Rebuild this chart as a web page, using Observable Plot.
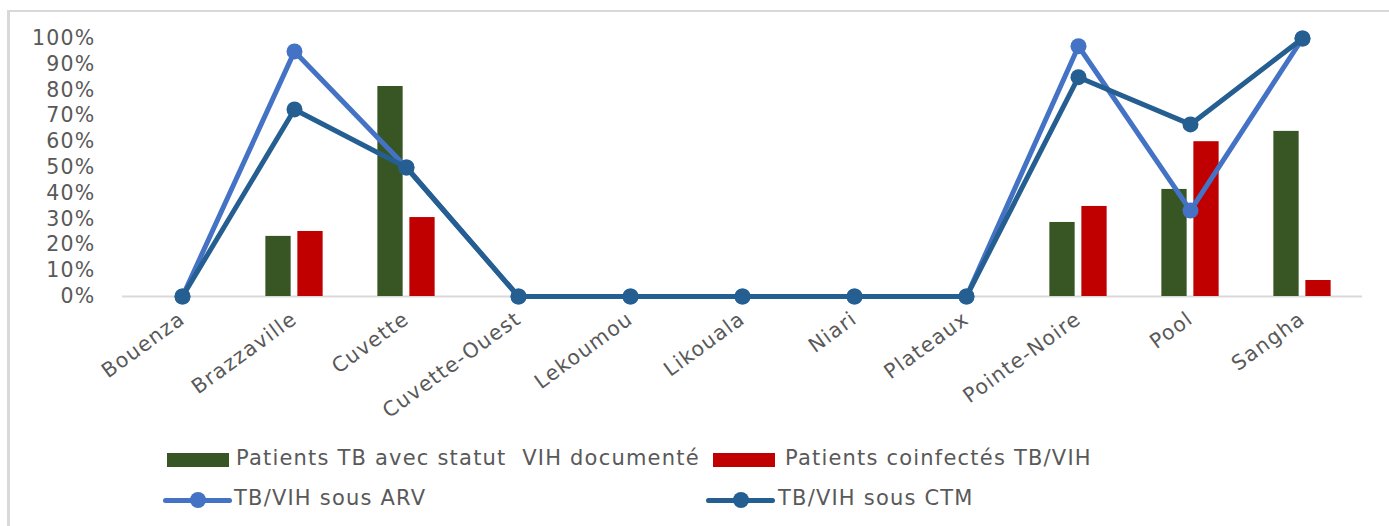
<!DOCTYPE html>
<html>
<head>
<meta charset="utf-8">
<script src="https://cdn.jsdelivr.net/npm/d3@7"></script>
<script src="https://cdn.jsdelivr.net/npm/@observablehq/plot@0.6"></script>
<style>
  html, body { margin: 0; padding: 0; background: #fff; }
  body { width: 1389px; height: 526px; position: relative; overflow: hidden; font-family: "DejaVu Sans", sans-serif; color: #595959; }
  #frame { position: absolute; left: 7px; top: 10px; width: 1400px; height: 600px; border-left: 3px solid #d9d9d9; border-top: 2px solid #d9d9d9; }
  #chart { position: absolute; left: 0; top: 0; }
  #chart svg text { letter-spacing: 1.2px; }
  .leg { position: absolute; font-size: 21px; letter-spacing: 1.2px; white-space: pre; line-height: 1; }
  .sw { position: absolute; }
</style>
</head>
<body>
<div id="frame"></div>
<div id="chart"></div>
<div id="legend"></div>
<script>
const categories = ["Bouenza","Brazzaville","Cuvette","Cuvette-Ouest","Lekoumou","Likouala","Niari","Plateaux","Pointe-Noire","Pool","Sangha"];
const statutDocumente = [0, 0.233, 0.814, 0, 0, 0, 0, 0, 0.287, 0.415, 0.64];
const coinfectes = [0, 0.252, 0.306, 0, 0, 0, 0, 0, 0.349, 0.60, 0.062];
const sousARV = [0, 0.95, 0.50, 0, 0, 0, 0, 0, 0.97, 0.333, 1.0];
const sousCTM = [0, 0.725, 0.50, 0, 0, 0, 0, 0, 0.85, 0.667, 1.0];
const yTicks = [0, 0.1, 0.2, 0.3, 0.4, 0.5, 0.6, 0.7, 0.8, 0.9, 1.0];
const seriesNames = ["Patients TB avec statut  VIH documenté", "Patients coinfectés TB/VIH", "TB/VIH sous ARV", "TB/VIH sous CTM"];
const colors = ["#375623", "#c00000", "#4472c4", "#255e91"];

const rows = categories.map((c, i) => ({cat: c, doc: statutDocumente[i], coinf: coinfectes[i], arv: sousARV[i], ctm: sousCTM[i]}));

const W = 1389, mL = 122, mR = 27;
const bw = (W - mL - mR) / categories.length;
const half = bw / 2;

const plot = Plot.plot({
  width: W,
  height: 430,
  marginLeft: mL,
  marginRight: mR,
  marginTop: 38,
  marginBottom: 134,
  style: {fontFamily: "DejaVu Sans, sans-serif", fontSize: "20.5px", color: "#595959", background: "transparent", overflow: "visible"},
  x: {type: "band", domain: categories, padding: 0, label: null, tickSize: 0, tickPadding: 20, tickRotate: -36},
  y: {domain: [0, 1], ticks: yTicks, tickFormat: d3.format(".0%"), label: null, tickSize: 0, tickPadding: 27},
  marks: [
    Plot.ruleY([0], {stroke: "#d9d9d9", strokeWidth: 2}),
    Plot.barY(rows.filter(d => d.doc > 0), {x: "cat", y: "doc", fill: colors[0], insetLeft: half - 29, insetRight: half + 3}),
    Plot.barY(rows.filter(d => d.coinf > 0), {x: "cat", y: "coinf", fill: colors[1], insetLeft: half + 3, insetRight: half - 29}),
    Plot.lineY(rows, {x: "cat", y: "arv", stroke: colors[2], strokeWidth: 5, strokeLinejoin: "round"}),
    Plot.dot(rows, {x: "cat", y: "arv", fill: colors[2], r: 8}),
    Plot.lineY(rows, {x: "cat", y: "ctm", stroke: colors[3], strokeWidth: 5, strokeLinejoin: "round"}),
    Plot.dot(rows, {x: "cat", y: "ctm", fill: colors[3], r: 8})
  ]
});
document.getElementById("chart").appendChild(plot);

// Legend
const legend = document.getElementById("legend");
const items = [
  {type: "bar", x: 167, y: 460, label: seriesNames[0], color: colors[0], tx: 236},
  {type: "bar", x: 713, y: 460, label: seriesNames[1], color: colors[1], tx: 785},
  {type: "line", x: 163, y: 500, label: seriesNames[2], color: colors[2], tx: 234},
  {type: "line", x: 706, y: 500, label: seriesNames[3], color: colors[3], tx: 778}
];
for (const it of items) {
  if (it.type === "bar") {
    const s = document.createElement("div");
    s.className = "sw";
    Object.assign(s.style, {left: it.x + "px", top: (it.y - 7) + "px", width: "62px", height: "14px", background: it.color});
    legend.appendChild(s);
  } else {
    const l = document.createElement("div");
    l.className = "sw";
    Object.assign(l.style, {left: it.x + "px", top: (it.y - 2.5) + "px", width: "69px", height: "5px", background: it.color, borderRadius: "3px"});
    legend.appendChild(l);
    const d = document.createElement("div");
    d.className = "sw";
    Object.assign(d.style, {left: (it.x + 27) + "px", top: (it.y - 8) + "px", width: "16px", height: "16px", background: it.color, borderRadius: "50%"});
    legend.appendChild(d);
  }
  const t = document.createElement("div");
  t.className = "leg";
  t.textContent = it.label;
  Object.assign(t.style, {left: it.tx + "px", top: (it.y - 12) + "px"});
  legend.appendChild(t);
}
</script>
</body>
</html>
